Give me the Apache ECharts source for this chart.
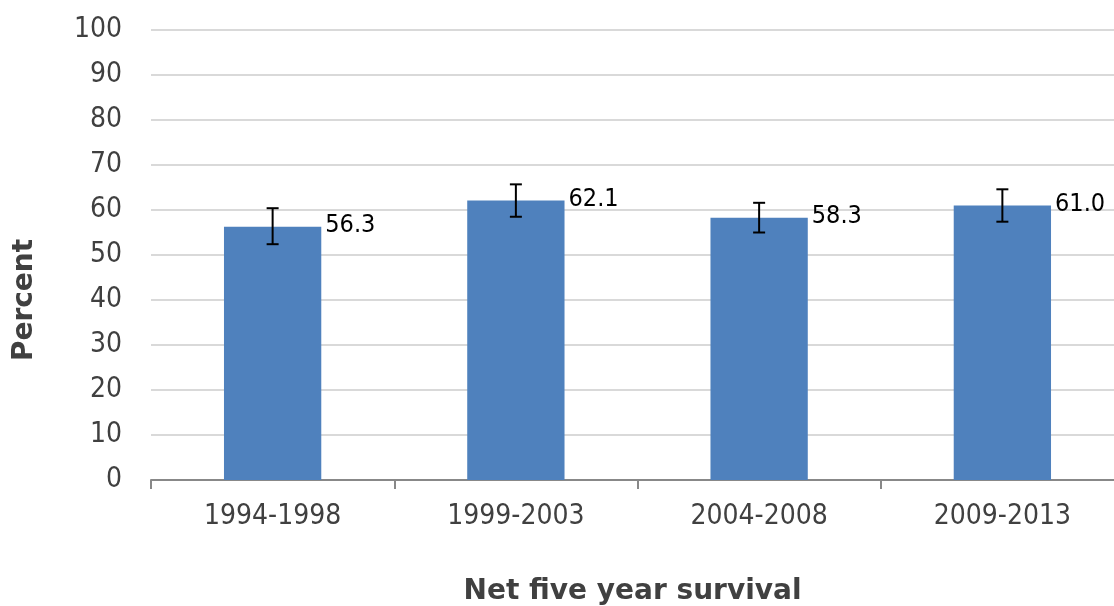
<!DOCTYPE html>
<html>
<head>
<meta charset="utf-8">
<script src="https://cdn.jsdelivr.net/npm/echarts@6/dist/echarts.min.js"></script>
<style>
html,body{margin:0;padding:0;background:#fff;}
#chart{width:1114px;height:606px;}
</style>
</head>
<body>
<div id="chart"></div>
<script>
const categories = ['1994-1998', '1999-2003', '2004-2008', '2009-2013'];
const values = [56.3, 62.1, 58.3, 61.0];
const errLow = [52.4, 58.5, 55.0, 57.4];
const errHigh = [60.4, 65.7, 61.6, 64.6];
const yTicks = { min: 0, max: 100, interval: 10 };

const chart = echarts.init(document.getElementById('chart'), null, { renderer: 'canvas' });
const labelFont = 'DejaVu Sans Condensed';
const errData = categories.map((c, i) => [i, errLow[i], errHigh[i]]);

chart.setOption({
  animation: false,
  backgroundColor: '#ffffff',
  grid: { left: 151, top: 30, right: -10, bottom: 126, containLabel: false, outerBoundsMode: 'none' },
  graphic: [
    {
      type: 'text',
      x: 25,
      y: 300,
      rotation: Math.PI / 2,
      style: {
        text: 'Percent',
        fontFamily: 'DejaVu Sans',
        fontWeight: 'bold',
        fontSize: 28,
        fill: '#404040',
        align: 'center',
        verticalAlign: 'middle'
      }
    }
  ],
  xAxis: {
    type: 'category',
    data: categories,
    name: 'Net five year survival',
    nameLocation: 'middle',
    nameGap: 98,
    nameTextStyle: { fontFamily: 'DejaVu Sans', fontWeight: 'bold', fontSize: 28, color: '#404040', padding: [0, 10, 0, 0] },
    axisLine: { show: true, lineStyle: { color: '#888888', width: 2 } },
    axisTick: { show: true, length: 9, lineStyle: { color: '#888888', width: 2 } },
    axisLabel: { fontFamily: labelFont, fontSize: 28, color: '#404040', margin: 23 },
    splitLine: { show: false }
  },
  yAxis: {
    type: 'value',
    min: yTicks.min,
    max: yTicks.max,
    interval: yTicks.interval,
    axisLine: { show: false },
    axisTick: { show: false },
    axisLabel: { fontFamily: labelFont, fontSize: 28, color: '#404040', margin: 29 },
    splitLine: { show: true, lineStyle: { color: '#d9d9d9', width: 2 } }
  },
  series: [
    {
      type: 'bar',
      data: values,
      barWidth: '40%',
      itemStyle: { color: '#4f81bd' },
      label: {
        show: true,
        position: ['100%', 0],
        offset: [4, -1],
        align: 'left',
        verticalAlign: 'middle',
        fontFamily: labelFont,
        fontSize: 25,
        color: '#000000',
        formatter: p => p.value.toFixed(1)
      },
      z: 2
    },
    {
      type: 'custom',
      data: errData,
      z: 5,
      renderItem: function (params, api) {
        const x = api.value(0);
        const lo = api.coord([x, api.value(1)]);
        const hi = api.coord([x, api.value(2)]);
        const hw = 6;
        const style = { stroke: '#000000', lineWidth: 2 };
        return {
          type: 'group',
          children: [
            { type: 'line', shape: { x1: hi[0], y1: hi[1], x2: lo[0], y2: lo[1] }, style },
            { type: 'line', shape: { x1: hi[0] - hw, y1: hi[1], x2: hi[0] + hw, y2: hi[1] }, style },
            { type: 'line', shape: { x1: lo[0] - hw, y1: lo[1], x2: lo[0] + hw, y2: lo[1] }, style }
          ]
        };
      }
    }
  ]
});
</script>
</body>
</html>
